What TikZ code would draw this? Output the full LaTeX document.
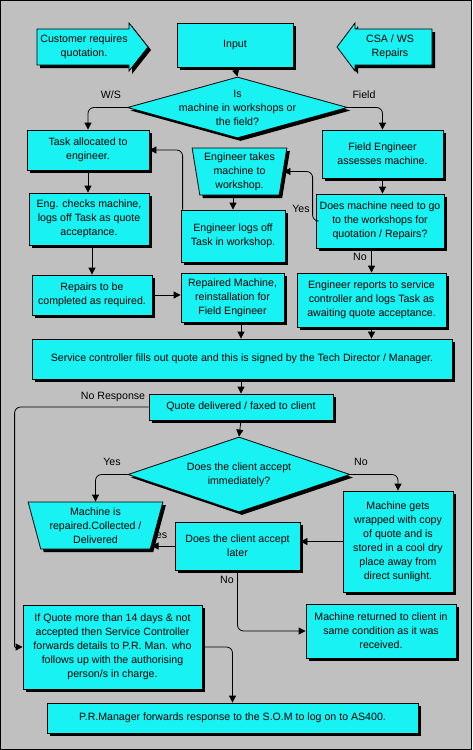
\documentclass[tikz,border=0pt]{standalone}
\usepackage{fontspec}
\setmainfont{Liberation Sans}
\usetikzlibrary{arrows.meta,shapes.geometric,shadows}
\definecolor{boxcyan}{RGB}{24,242,242}
\definecolor{panelgray}{RGB}{192,192,192}

\begin{document}
\begin{tikzpicture}[x=1pt, y=-1pt,
  every node/.style={font=\fontsize{10.6}{14}\selectfont, align=center},
  castshadow/.style={drop shadow={shadow xshift=3pt, shadow yshift=-3pt, fill=black, opacity=1}},
  box/.style={draw, fill=boxcyan, line width=0.8pt, inner sep=1pt, castshadow},
  trap/.style={box, trapezium, shape border rotate=180, trapezium stretches=true},
  decide/.style={box, diamond},
  flow/.style={-{Triangle[length=7pt,width=7pt]}, line width=0.8pt, rounded corners=6pt},
  tag/.style={inner sep=1pt}]
  % panel
  \useasboundingbox (0,0) rectangle (472,750);
  \draw[fill=panelgray, line width=1pt] (0.5,0.5) rectangle (471.5,749.5);
  % input arrows
  \draw[fill=boxcyan, line width=0.8pt, castshadow] (37,29) -- (129,29) -- (129,23) -- (148,47)
    -- (129,71) -- (129,65) -- (37,65) -- cycle;
  \node (cust) at (84,47) {Customer requires\\quotation.};
  \draw[fill=boxcyan, line width=0.8pt, castshadow] (432,29) -- (355,29) -- (355,23) -- (337,47)
    -- (355,71) -- (355,65) -- (432,65) -- cycle;
  \node (csa) at (390,47) {CSA / WS\\Repairs};
  % top row
  \node[box, minimum width=116pt, minimum height=44pt] (input) at (235,45) {Input};
  \node[decide, minimum width=220pt, minimum height=61pt,
    label={[align=center]center:{Is\\machine in workshops or\\the field?}}] (where) at (237.5,107.5) {};
  % workshop branch
  \node[box, minimum width=122pt, minimum height=40pt] (task) at (88,150) {Task allocated to\\engineer.};
  \node[box, minimum width=120pt, minimum height=52pt] (engchk) at (89,219) {Eng. checks machine,\\logs off Task as quote\\acceptance.};
  \node[box, minimum width=120pt, minimum height=40pt] (repairs) at (92,295) {Repairs to be\\completed as required.};
  % middle column
  \node[trap, trapezium left angle=80, trapezium right angle=80,
    minimum width=95pt, minimum height=47pt] (takes) at (239.5,171.5) {Engineer takes\\machine to\\workshop.};
  \node[box, minimum width=104pt, minimum height=52pt] (logoff) at (233,236) {Engineer logs off\\Task in workshop.};
  \node[box, minimum width=103pt, minimum height=49pt] (repaired) at (232.5,297.5) {Repaired Machine,\\reinstallation for\\Field Engineer};
  % field branch
  \node[box, minimum width=121pt, minimum height=48pt] (field) at (382.5,154) {Field Engineer\\assesses machine.};
  \node[box, minimum width=128pt, minimum height=54pt] (does) at (380,221) {Does machine need to go\\to the workshops for\\quotation / Repairs?};
  \node[box, minimum width=149pt, minimum height=54pt] (engrep) at (371.5,300) {Engineer reports to service\\controller and logs Task as\\awaiting quote acceptance.};
  % quote
  \node[box, minimum width=420pt, minimum height=40pt] (service) at (242,359) {Service controller fills out quote and this is signed by the Tech Director / Manager.};
  \node[box, minimum width=184pt, minimum height=26pt] (quote) at (241,407) {Quote delivered / faxed to client};
  \node[decide, minimum width=222pt, minimum height=75pt,
    label={[align=center]center:{Does the client accept\\immediately?}}] (accept) at (239,474.5) {};
  % label partly hidden behind the trapezium
  \node[tag] (yeslater) at (158.5,535) {Yes};
  \node[trap, trapezium left angle=74, trapezium right angle=74,
    minimum width=135pt, minimum height=47pt] (collect) at (95.5,525.5) {Machine is\\repaired.Collected /\\Delivered};
  \node[box, minimum width=125pt, minimum height=48pt] (later) at (237.5,546) {Does the client accept\\later};
  \node[box, minimum width=110pt, minimum height=101pt] (wrap) at (398,541.5) {Machine gets\\wrapped with copy\\of quote and is\\stored in a cool dry\\place away from\\direct sunlight.};
  \node[box, minimum width=179pt, minimum height=84pt] (overdue) at (112.5,647) {If Quote more than 14 days \& not\\accepted then Service Controller\\forwards details to P.R. Man. who\\follows up with the authorising\\person/s in charge.};
  \node[box, minimum width=150pt, minimum height=54pt] (returned) at (381,631) {Machine returned to client in\\same condition as it was\\received.};
  \node[box, minimum width=371pt, minimum height=30pt] (prman) at (232.5,718) {P.R.Manager forwards response to the S.O.M to log on to AS400.};
  % labels
  \node[tag] (lws) at (111,95) {W/S};
  \node[tag] (lfield) at (364,95) {Field};
  \node[tag] (lyes1) at (301,209) {Yes};
  \node[tag] (lno1) at (360,257) {No};
  \node[tag] (lnoresp) at (113,397) {No Response};
  \node[tag] (lyes2) at (112,462) {Yes};
  \node[tag] (lno2) at (361,462) {No};
  \node[tag] (lno3) at (227,580) {No};
  % connectors
  \draw[flow] (input.south) -- (where.north);
  \draw[flow] (where.west) -| (task.north);
  \draw[flow] (where.east) -| (field.north);
  \draw[flow] (task.south) -- (task.south |- engchk.north);
  \draw[flow] (repairs.north |- engchk.south) -- (repairs.north);
  \draw[flow] (logoff.north |- takes.south) -- (logoff.north);
  \draw[flow] ([xshift=2pt]logoff.north west) |- (task.east);
  \draw[flow] (field.south) -- (field.south |- does.north);
  \draw[flow] (does.west) -- ++(-3,0) |- (takes.east);
  \draw[flow] (engrep.north |- does.south) -- (engrep.north);
  \draw[flow] (repairs.east) -- (repairs.east -| repaired.west);
  \draw[flow] (repaired.south -| quote.north) -- (quote.north |- service.north);
  \draw[flow] (engrep.south) -- (engrep.south |- service.north);
  \draw[flow] (quote.north |- service.south) -- (quote.north);
  \draw[flow] (quote.south) -- (accept.north);
  \draw[line width=0.8pt, rounded corners=6pt] (quote.west) -| ([xshift=-8pt]overdue.west);
  \draw[flow] ([xshift=-8pt]overdue.west) -- (overdue.west);
  \draw[flow] (accept.west) -| (collect.north);
  \draw[flow] (accept.east) -| (wrap.north);
  \draw[flow] (wrap.west) -- (wrap.west -| later.east);
  \draw[flow] (later.west) -- ++(-23,0);
  \draw[flow] (later.south) |- (returned.west);
  \draw[flow] (overdue.east) -| (prman.north);
\end{tikzpicture}
\end{document}
